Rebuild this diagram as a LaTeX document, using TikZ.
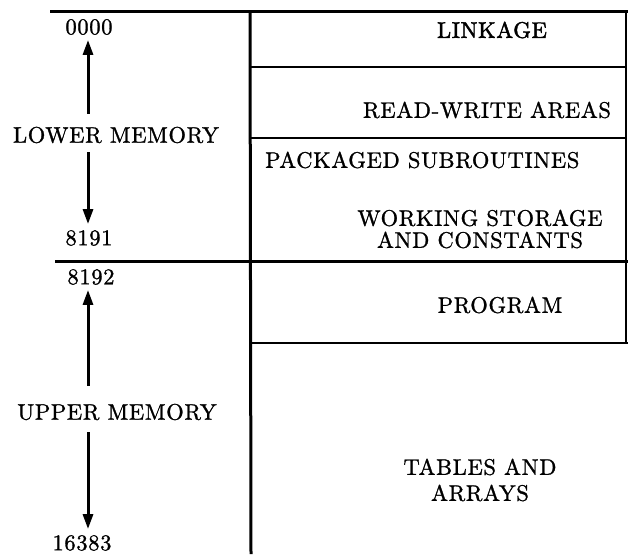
\documentclass[tikz,border=0pt]{standalone}
\usepackage{fontspec}
\setmainfont{lmroman10-regular}[Extension=.otf,LetterSpace=3.0,FakeBold=1.2]
\usetikzlibrary{arrows.meta}
\begin{document}
\begin{tikzpicture}[x=1pt,y=-1pt,
  lbl/.style={inner sep=0pt,font=\fontsize{22.5}{22}\selectfont},
  thickln/.style={line width=3pt},
  thinln/.style={line width=1.6pt},
  arr/.style={line width=3pt,-{Triangle[length=15pt,width=10pt]}}]
\useasboundingbox (0,0) rectangle (628,554);
% frame lines
\draw[thickln] (50,11) -- (628,11);
\draw[thickln] (250,11) -- (251,554);
\draw[thickln] (55,261) -- (628,261);
\draw[thinln] (250,67) -- (626,67);
\draw[thinln] (250,138) -- (626,138);
\draw[thinln] (250,343) -- (628,343);
\draw[line width=2pt] (626,11) -- (626,343);
% left labels
\node[lbl] (a0) at (89,27) {0000};
\node[lbl] (lower) at (116,135) {LOWER MEMORY};
\node[lbl] (a8191) at (89,238) {8191};
\node[lbl] (a8192) at (91,277) {8192};
\node[lbl] (upper) at (117,412) {UPPER MEMORY};
\node[lbl] (a16383) at (82,543) {16383};
% arrows
\draw[arr,shorten <=13pt,shorten >=5pt] (lower.north -| 88,0) -- (a0.south -| 88,0);
\draw[arr,shorten <=9pt,shorten >=6pt] (lower.south -| 88,0) -- (a8191.north -| 88,0);
\draw[arr,shorten <=18pt,shorten >=5pt] (upper.north -| 88,0) -- (a8192.south -| 88,0);
\draw[arr,shorten <=12pt,shorten >=6pt] (upper.south -| 88,0) -- (a16383.north -| 88,0);
% right labels
\node[lbl,font=\fontsize{22.5}{22}\selectfont\addfontfeatures{FakeBold=2}] (link) at (492,30) {LINKAGE};
\node[lbl] (rw) at (487,110) {READ-WRITE AREAS};
\node[lbl,anchor=west] (pkg) at (265,160) {PACKAGED SUBROUTINES};
\node[lbl,align=center] (ws) at (480,229) {WORKING STORAGE\\ AND CONSTANTS};
\node[lbl] (prog) at (500,305) {PROGRAM};
\node[lbl,align=center,font=\fontsize{22.5}{26}\selectfont] (tab) at (480,480) {TABLES AND\\ARRAYS};
\end{tikzpicture}
\end{document}
